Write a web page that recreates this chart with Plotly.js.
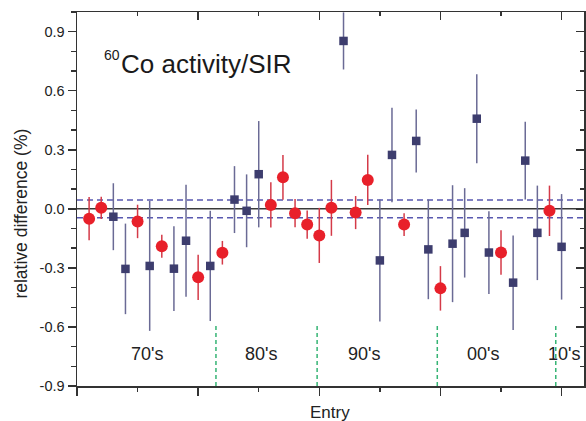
<!DOCTYPE html>
<html>
<head>
<meta charset="utf-8">
<script src="https://cdn.plot.ly/plotly-3.0.1.min.js"></script>
<style>html,body{margin:0;padding:0;background:#fff;}#chart{width:586px;height:421px;}</style>
</head>
<body>
<div id="chart"></div>
<script>
// Entries measured with red circles
const redEntries = [1, 2, 5, 7, 10, 12, 16, 17, 18, 19, 20, 21, 23, 24, 27, 30, 35, 39];
const redValues  = [-0.05, 0.005, -0.064, -0.19, -0.348, -0.223, 0.02, 0.16, -0.022, -0.08, -0.135, 0.005, -0.019, 0.147, -0.08, -0.404, -0.222, -0.01];
const redErrors  = [0.11, 0.057, 0.085, 0.058, 0.115, 0.06, 0.115, 0.114, 0.072, 0.072, 0.14, 0.142, 0.084, 0.128, 0.058, 0.113, 0.113, 0.128];

// Entries measured with navy squares
const sqEntries = [3, 4, 6, 8, 9, 11, 13, 14, 15, 22, 25, 26, 28, 29, 31, 32, 33, 34, 36, 37, 38, 40];
const sqValues  = [-0.04, -0.305, -0.29, -0.304, -0.162, -0.29, 0.047, -0.01, 0.176, 0.853, -0.262, 0.274, 0.345, -0.206, -0.177, -0.122, 0.458, -0.222, -0.375, 0.245, -0.122, -0.193];
const sqErrors  = [0.17, 0.23, 0.33, 0.215, 0.285, 0.28, 0.17, 0.185, 0.27, 0.145, 0.31, 0.24, 0.16, 0.253, 0.297, 0.227, 0.226, 0.21, 0.24, 0.197, 0.24, 0.268];

// Uncertainty band (dashed) and decade labels
const bandValue = 0.045;
const decadeLabels = ["70's", "80's", "90's", "00's", "10's"];
const decadeBoundaries = [11.47, 19.82, 29.74, 39.52];

const yTickVals = [-0.9, -0.6, -0.3, 0.0, 0.3, 0.6, 0.9];
const yTickText = ["-0.9", "-0.6", "-0.3", "0.0", "0.3", "0.6", "0.9"];

// layout positions of decade labels (data x)
const decadeLabelX = [5.78, 15.2, 23.7, 33.5, 40.2];
const decadeLabelY = -0.735;

const FONT = 'Liberation Sans, Arial, Helvetica, sans-serif';
const AX = '#333333';
const XR = [0, 41.85], YR = [-0.9, 1.0];

const traces = [
  {
    x: sqEntries, y: sqValues, type: 'scatter', mode: 'markers',
    marker: {symbol: 'square', size: 8.5, color: '#3d3d6e'},
    error_y: {type: 'data', array: sqErrors, visible: true, thickness: 1.5, width: 0, color: '#6a6a95'},
    showlegend: false, hoverinfo: 'skip'
  },
  {
    x: redEntries, y: redValues, type: 'scatter', mode: 'markers',
    marker: {symbol: 'circle', size: 12, color: '#e8202a'},
    error_y: {type: 'data', array: redErrors, visible: true, thickness: 1.5, width: 0, color: '#d43a48'},
    showlegend: false, hoverinfo: 'skip'
  },
  {
    x: [null], y: [null], xaxis: 'x2', yaxis: 'y2', type: 'scatter', mode: 'markers',
    showlegend: false, hoverinfo: 'skip'
  }
];

const shapes = [
  {type: 'line', xref: 'paper', yref: 'y', x0: 0, x1: 1, y0: 0, y1: 0, line: {color: '#3a3a3a', width: 1.5}, layer: 'below'},
  {type: 'line', xref: 'paper', yref: 'y', x0: 0, x1: 1, y0: bandValue, y1: bandValue, line: {color: '#5858b0', width: 1.5, dash: '6px,4px'}, layer: 'below'},
  {type: 'line', xref: 'paper', yref: 'y', x0: 0, x1: 1, y0: -bandValue, y1: -bandValue, line: {color: '#5858b0', width: 1.5, dash: '6px,4px'}, layer: 'below'}
];
decadeBoundaries.forEach(b => shapes.push({
  type: 'line', xref: 'x', yref: 'y', x0: b, x1: b, y0: -0.9, y1: -0.59,
  line: {color: '#35b474', width: 1.5, dash: '4px,3px'}, layer: 'below'
}));

const annotations = [
  {xref: 'paper', yref: 'paper', x: 0.0833, y: 0.8605, xanchor: 'left', yanchor: 'middle', showarrow: false,
   text: 'Co activity/SIR', font: {family: FONT, size: 26, color: '#1a1a1a'}},
  {xref: 'paper', yref: 'paper', x: 0.0498, y: 0.8854, xanchor: 'left', yanchor: 'middle', showarrow: false,
   text: '60', font: {family: FONT, size: 14, color: '#1a1a1a'}},
  {xref: 'paper', yref: 'paper', x: -0.1097, y: 0.462, xanchor: 'center', yanchor: 'middle', showarrow: false,
   textangle: -90, text: 'relative difference (%)', font: {family: FONT, size: 17.5, color: '#222'}},
  {xref: 'paper', yref: 'paper', x: 0.499, y: -0.0703, xanchor: 'center', yanchor: 'middle', showarrow: false,
   text: 'Entry', font: {family: FONT, size: 17, color: '#222'}}
];
decadeLabels.forEach((t, i) => annotations.push({
  xref: 'x', yref: 'y', x: decadeLabelX[i], y: decadeLabelY, xanchor: 'center', yanchor: 'middle',
  showarrow: false, text: t, font: {family: FONT, size: 18, color: '#222'}
}));

const baseX = {
  range: XR, autorange: false, showgrid: false, zeroline: false, showline: true,
  linecolor: AX, linewidth: 1.5, tick0: 0, dtick: 10, ticklen: 8, tickwidth: 1.5, tickcolor: AX,
  showticklabels: false,
  minor: {dtick: 5, tick0: 0, ticklen: 4, tickwidth: 1.5, tickcolor: AX, showgrid: false}
};
const baseY = {
  range: YR, autorange: false, showgrid: false, zeroline: false, showline: true,
  linecolor: AX, linewidth: 1.5, ticklen: 8, tickwidth: 1.5, tickcolor: AX,
  tickmode: 'array', tickvals: yTickVals,
  minor: {tickmode: 'linear', dtick: 0.1, tick0: 0, ticklen: 4.5, tickwidth: 1.5, tickcolor: AX, showgrid: false}
};

const layout = {
  width: 586, height: 421,
  margin: {l: 77, r: 2, t: 12, b: 35, pad: 0},
  paper_bgcolor: '#ffffff', plot_bgcolor: '#ffffff',
  font: {family: FONT, size: 14, color: '#222'},
  showlegend: false,
  xaxis: Object.assign({}, baseX, {ticks: 'outside', minor: Object.assign({}, baseX.minor, {ticks: 'outside'})}),
  xaxis2: Object.assign({}, baseX, {overlaying: 'x', side: 'top', ticks: 'inside', minor: Object.assign({}, baseX.minor, {ticks: 'inside'})}),
  yaxis: Object.assign({}, baseY, {ticks: 'outside', ticktext: yTickText, showticklabels: true,
    tickfont: {family: FONT, size: 14.5, color: '#222'},
    minor: Object.assign({}, baseY.minor, {ticks: 'outside'})}),
  yaxis2: Object.assign({}, baseY, {overlaying: 'y', side: 'right', ticks: 'inside', showticklabels: false,
    minor: Object.assign({}, baseY.minor, {ticks: 'inside'})}),
  shapes: shapes,
  annotations: annotations
};

Plotly.newPlot('chart', traces, layout, {staticPlot: true, displayModeBar: false});
</script>
</body>
</html>
